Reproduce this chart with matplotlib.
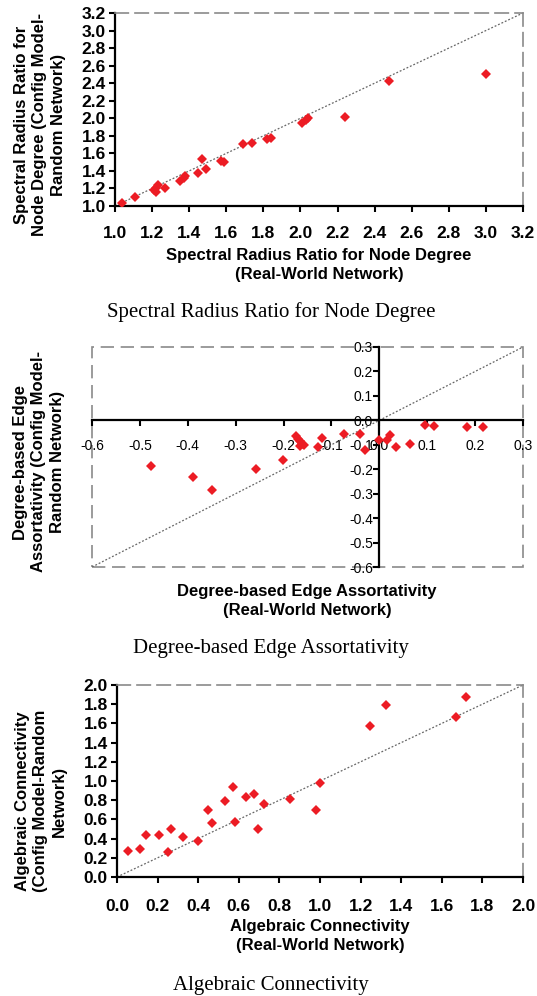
import matplotlib
matplotlib.use('Agg')
import matplotlib.pyplot as plt
from matplotlib.patches import Rectangle

# Spectral radius ratio for node degree: real-world vs config model
spec_real = [1.04, 1.11, 1.21, 1.22, 1.23, 1.22, 1.27, 1.35, 1.37, 1.38, 1.45, 1.47, 1.49,
             1.57, 1.59, 1.69, 1.74, 1.82, 1.84, 2.01, 2.03, 2.04, 2.24, 2.48, 3.00]
spec_model = [1.03, 1.10, 1.18, 1.16, 1.24, 1.20, 1.21, 1.29, 1.32, 1.34, 1.38, 1.54, 1.42,
              1.51, 1.50, 1.71, 1.72, 1.76, 1.77, 1.95, 1.98, 2.00, 2.01, 2.42, 2.50]
spec_ticks = [1.0, 1.2, 1.4, 1.6, 1.8, 2.0, 2.2, 2.4, 2.6, 2.8, 3.0, 3.2]

# Degree-based edge assortativity
assort_real = [-0.477, -0.390, -0.349, -0.258, -0.202, -0.175, -0.170, -0.166, -0.162, -0.158,
               -0.165, -0.129, -0.120, -0.073, -0.040, -0.029, -0.001, 0.017, 0.022, 0.035,
               0.063, 0.096, 0.115, 0.184, 0.216]
assort_model = [-0.185, -0.233, -0.283, -0.201, -0.161, -0.065, -0.075, -0.085, -0.095, -0.100,
                -0.105, -0.109, -0.074, -0.055, -0.057, -0.122, -0.079, -0.081, -0.060, -0.111,
                -0.096, -0.018, -0.022, -0.027, -0.027]
assort_ticks = [-0.6, -0.5, -0.4, -0.3, -0.2, -0.1, 0.0, 0.1, 0.2, 0.3]

# Algebraic connectivity
alg_real = [0.054, 0.115, 0.143, 0.207, 0.253, 0.268, 0.327, 0.397, 0.447, 0.466, 0.534, 0.571,
            0.580, 0.634, 0.673, 0.695, 0.724, 0.851, 0.982, 0.998, 1.245, 1.327, 1.670, 1.718]
alg_model = [0.271, 0.289, 0.438, 0.438, 0.257, 0.504, 0.414, 0.372, 0.696, 0.560, 0.790, 0.936,
             0.577, 0.835, 0.866, 0.504, 0.762, 0.810, 0.703, 0.984, 1.572, 1.788, 1.663, 1.878]
alg_ticks = [0.0, 0.2, 0.4, 0.6, 0.8, 1.0, 1.2, 1.4, 1.6, 1.8, 2.0]

W, H = 537, 996
RED = '#ec1c24'
DASH = (0, (8, 4))
GRAY = '#8a8a8a'

plt.rcParams['font.family'] = ['Liberation Sans', 'DejaVu Sans']
fig = plt.figure(figsize=(W / 100, H / 100), dpi=100)


def add_axes_px(left, top, right, bottom):
    return fig.add_axes([left / W, 1 - bottom / H, (right - left) / W, (bottom - top) / H])


def fig_text(x, y, s, **kw):
    fig.text(x / W, 1 - y / H, s, **kw)


def style_ticks(ax, ticks, xpad, ypad):
    labels = [f'{t:.1f}' for t in ticks]
    ax.set_xticks(ticks)
    ax.set_yticks(ticks)
    ax.set_xticklabels(labels, fontsize=12.5, fontweight='bold')
    ax.set_yticklabels(labels, fontsize=12.5, fontweight='bold')
    ax.tick_params(axis='x', direction='out', length=4.5, width=1.5, pad=xpad)
    ax.tick_params(axis='y', direction='out', length=4.5, width=1.5, pad=ypad)


def scatter_panel(ax, xs, ys, ticks):
    lo, hi = ticks[0], ticks[-1]
    ax.plot([lo, hi], [lo, hi], color='#666666', lw=0.9, ls=(0, (1.5, 1.5)), zorder=2)
    ax.plot(xs, ys, 'D', color=RED, markersize=4.6, markeredgewidth=0, zorder=3)
    ax.set_xlim(lo, hi)
    ax.set_ylim(lo, hi)


# --- top: spectral radius ratio ---
ax1 = add_axes_px(115, 13, 523, 206)
scatter_panel(ax1, spec_real, spec_model, spec_ticks)
style_ticks(ax1, spec_ticks, 10, 2)
for side in ['top', 'right']:
    ax1.spines[side].set_linestyle(DASH)
    ax1.spines[side].set_color(GRAY)
    ax1.spines[side].set_linewidth(1.2)
for side in ['left', 'bottom']:
    ax1.spines[side].set_linewidth(1.6)

fig_text(319, 265, 'Spectral Radius Ratio for Node Degree\n(Real-World Network)',
         ha='center', va='center', fontsize=12, fontweight='bold', linespacing=1.3)
fig_text(40, 125, 'Spectral Radius Ratio for\nNode Degree (Config Model-\nRandom Network)',
         ha='center', va='center', rotation=90, fontsize=12, fontweight='bold',
         linespacing=1.3, multialignment='center')
fig_text(271, 317, 'Spectral Radius Ratio for Node Degree', ha='center', va='baseline',
         fontsize=15, family=['Liberation Serif', 'DejaVu Serif'])

# --- middle: assortativity ---
ax2 = add_axes_px(92, 347, 523, 567)
scatter_panel(ax2, assort_real, assort_model, assort_ticks)
style_ticks(ax2, assort_ticks, 9, 0)
ax2.spines['left'].set_position(('data', 0))
ax2.spines['bottom'].set_position(('data', 0))
ax2.spines['left'].set_linewidth(1.6)
ax2.spines['bottom'].set_linewidth(1.6)
ax2.spines['top'].set_visible(False)
ax2.spines['right'].set_visible(False)
ax2.add_patch(Rectangle((0, 0), 1, 1, transform=ax2.transAxes, fill=False,
                        edgecolor=GRAY, lw=1.2, ls=DASH, clip_on=False, zorder=1))

fig_text(307, 601, 'Degree-based Edge Assortativity\n(Real-World Network)',
         ha='center', va='center', fontsize=12, fontweight='bold', linespacing=1.3)
fig_text(39, 462, 'Degree-based Edge\nAssortativity (Config Model-\nRandom Network)',
         ha='center', va='center', rotation=90, fontsize=12, fontweight='bold',
         linespacing=1.3, multialignment='center')
fig_text(271, 653, 'Degree-based Edge Assortativity', ha='center', va='baseline',
         fontsize=15, family=['Liberation Serif', 'DejaVu Serif'])

# --- bottom: algebraic connectivity ---
ax3 = add_axes_px(117, 685, 523, 877)
scatter_panel(ax3, alg_real, alg_model, alg_ticks)
style_ticks(ax3, alg_ticks, 11, 2)
for side in ['top', 'right']:
    ax3.spines[side].set_linestyle(DASH)
    ax3.spines[side].set_color(GRAY)
    ax3.spines[side].set_linewidth(1.2)
for side in ['left', 'bottom']:
    ax3.spines[side].set_linewidth(1.6)

fig_text(320, 936, 'Algebraic Connectivity\n(Real-World Network)',
         ha='center', va='center', fontsize=12, fontweight='bold', linespacing=1.3)
fig_text(41, 801, 'Algebraic Connectivity\n(Config Model-Random\nNetwork)',
         ha='center', va='center', rotation=90, fontsize=12, fontweight='bold',
         linespacing=1.3, multialignment='center')
fig_text(271, 990, 'Algebraic Connectivity', ha='center', va='baseline',
         fontsize=15, family=['Liberation Serif', 'DejaVu Serif'])

fig.savefig('out.png', dpi=100)
